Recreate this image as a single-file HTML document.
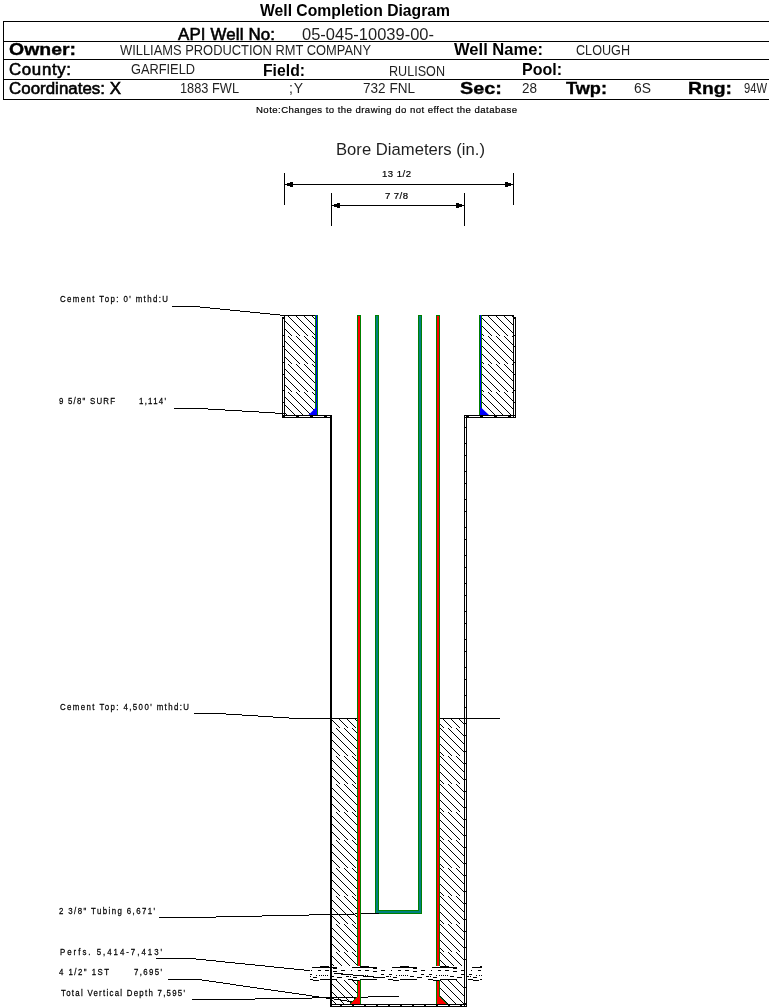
<!DOCTYPE html>
<html><head><meta charset="utf-8"><style>
html,body{margin:0;padding:0;background:#fff;}
svg{display:block;font-family:"Liberation Sans",sans-serif;will-change:transform;}
</style></head><body>
<svg width="769" height="1007" viewBox="0 0 769 1007">
<defs><pattern id="h" patternUnits="userSpaceOnUse" x="0" y="28" width="8" height="56"><g stroke="#000" stroke-width="1.1" shape-rendering="crispEdges" transform="translate(0.5,0.5)"><line x1="-40" y1="0" x2="-12.399999999999999" y2="27.6"/><line x1="-40" y1="28" x2="-12.399999999999999" y2="55.6"/><line x1="-32" y1="0" x2="-4.399999999999999" y2="27.6"/><line x1="-32" y1="28" x2="-4.399999999999999" y2="55.6"/><line x1="-24" y1="0" x2="3.6000000000000014" y2="27.6"/><line x1="-24" y1="28" x2="3.6000000000000014" y2="55.6"/><line x1="-16" y1="0" x2="11.600000000000001" y2="27.6"/><line x1="-16" y1="28" x2="11.600000000000001" y2="55.6"/><line x1="-8" y1="0" x2="19.6" y2="27.6"/><line x1="-8" y1="28" x2="19.6" y2="55.6"/><line x1="0" y1="0" x2="27.6" y2="27.6"/><line x1="0" y1="28" x2="27.6" y2="55.6"/><line x1="8" y1="0" x2="35.6" y2="27.6"/><line x1="8" y1="28" x2="35.6" y2="55.6"/><line x1="16" y1="0" x2="43.6" y2="27.6"/><line x1="16" y1="28" x2="43.6" y2="55.6"/></g></pattern><pattern id="pf" patternUnits="userSpaceOnUse" x="28" y="966" width="40" height="15"><rect x="12" y="0" width="9" height="1"/><rect x="4" y="1" width="25" height="1"/><rect x="25" y="2" width="4" height="1"/><rect x="3" y="4" width="1" height="1"/><rect x="10" y="4" width="3" height="1"/><rect x="17" y="4" width="4" height="1"/><rect x="33" y="4" width="4" height="1"/><rect x="25" y="5" width="4" height="1"/><rect x="1" y="8" width="3" height="1"/><rect x="33" y="8" width="3" height="1"/><rect x="8" y="9" width="1" height="1"/><rect x="11" y="9" width="1" height="1"/><rect x="13" y="9" width="1" height="1"/><rect x="15" y="9" width="1" height="1"/><rect x="17" y="9" width="1" height="1"/><rect x="19" y="9" width="1" height="1"/><rect x="0" y="10" width="1" height="1"/><rect x="2" y="10" width="1" height="1"/><rect x="22" y="10" width="4" height="1"/><rect x="38" y="10" width="2" height="1"/><rect x="5" y="11" width="4" height="1"/><rect x="29" y="11" width="5" height="1"/><rect x="0" y="13" width="5" height="1"/><rect x="12" y="13" width="17" height="1"/><rect x="5" y="14" width="6" height="1"/></pattern></defs>
<rect x="3" y="21" width="766" height="1" fill="#000"/>
<rect x="3" y="41" width="766" height="1" fill="#000"/>
<rect x="3" y="59" width="766" height="1" fill="#000"/>
<rect x="3" y="79" width="766" height="1" fill="#000"/>
<rect x="3" y="99" width="766" height="1" fill="#000"/>
<rect x="3" y="21" width="1" height="79" fill="#000"/>
<rect x="284" y="173" width="1" height="32" fill="#000"/>
<rect x="513" y="173" width="1" height="32" fill="#000"/>
<rect x="284" y="184" width="230" height="1" fill="#000"/>
<rect x="331" y="193" width="1" height="33" fill="#000"/>
<rect x="464" y="193" width="1" height="33" fill="#000"/>
<rect x="331" y="205" width="134" height="1" fill="#000"/>
<rect x="287" y="183" width="3" height="3" fill="#000"/><rect x="290" y="182" width="3" height="5" fill="#000"/>
<rect x="508" y="183" width="3" height="3" fill="#000"/><rect x="505" y="182" width="3" height="5" fill="#000"/>
<rect x="334" y="204" width="3" height="3" fill="#000"/><rect x="337" y="203" width="3" height="5" fill="#000"/>
<rect x="459" y="204" width="3" height="3" fill="#000"/><rect x="456" y="203" width="3" height="5" fill="#000"/>
<rect x="285" y="316" width="30" height="99" fill="url(#h)"/>
<rect x="482" y="316" width="31" height="99" fill="url(#h)"/>
<rect x="332" y="719" width="25" height="285" fill="url(#h)"/>
<rect x="440" y="719" width="24" height="285" fill="url(#h)"/>
<rect x="280" y="315" width="38" height="1" fill="#000"/>
<rect x="479" y="315" width="35" height="1" fill="#000"/>
<rect x="282" y="317" width="1" height="101" fill="#000"/>
<rect x="284" y="315" width="1" height="103" fill="#000"/>
<rect x="282" y="317" width="3" height="2" fill="#000"/>
<rect x="282" y="415" width="50" height="1" fill="#000"/>
<rect x="282" y="417" width="50" height="1" fill="#000"/>
<rect x="513" y="315" width="1" height="103" fill="#000"/>
<rect x="515" y="317" width="1" height="101" fill="#000"/>
<rect x="513" y="317" width="3" height="2" fill="#000"/>
<rect x="464" y="415" width="52" height="1" fill="#000"/>
<rect x="464" y="417" width="52" height="1" fill="#000"/>
<rect x="282" y="335" width="3" height="1" fill="#000"/>
<rect x="513" y="335" width="3" height="1" fill="#000"/>
<rect x="282" y="346" width="3" height="1" fill="#000"/>
<rect x="513" y="346" width="3" height="1" fill="#000"/>
<rect x="282" y="362" width="3" height="1" fill="#000"/>
<rect x="513" y="362" width="3" height="1" fill="#000"/>
<rect x="282" y="374" width="3" height="1" fill="#000"/>
<rect x="513" y="374" width="3" height="1" fill="#000"/>
<rect x="282" y="390" width="3" height="1" fill="#000"/>
<rect x="513" y="390" width="3" height="1" fill="#000"/>
<rect x="282" y="402" width="3" height="1" fill="#000"/>
<rect x="513" y="402" width="3" height="1" fill="#000"/>
<rect x="282" y="416" width="3" height="1" fill="#000"/>
<rect x="296" y="416" width="3" height="1" fill="#000"/>
<rect x="310" y="416" width="3" height="1" fill="#000"/>
<rect x="324" y="416" width="3" height="1" fill="#000"/>
<rect x="466" y="416" width="3" height="1" fill="#000"/>
<rect x="480" y="416" width="3" height="1" fill="#000"/>
<rect x="494" y="416" width="3" height="1" fill="#000"/>
<rect x="508" y="416" width="3" height="1" fill="#000"/>
<rect x="330" y="415" width="2" height="592" fill="#000"/>
<rect x="464" y="415" width="1" height="592" fill="#000"/>
<rect x="466" y="415" width="1" height="592" fill="#000"/>
<rect x="464" y="427" width="3" height="1" fill="#000"/>
<rect x="464" y="443" width="3" height="1" fill="#000"/>
<rect x="464" y="455" width="3" height="1" fill="#000"/>
<rect x="464" y="471" width="3" height="1" fill="#000"/>
<rect x="464" y="483" width="3" height="1" fill="#000"/>
<rect x="464" y="499" width="3" height="1" fill="#000"/>
<rect x="464" y="511" width="3" height="1" fill="#000"/>
<rect x="464" y="527" width="3" height="1" fill="#000"/>
<rect x="464" y="539" width="3" height="1" fill="#000"/>
<rect x="464" y="555" width="3" height="1" fill="#000"/>
<rect x="464" y="567" width="3" height="1" fill="#000"/>
<rect x="464" y="583" width="3" height="1" fill="#000"/>
<rect x="464" y="595" width="3" height="1" fill="#000"/>
<rect x="464" y="611" width="3" height="1" fill="#000"/>
<rect x="464" y="623" width="3" height="1" fill="#000"/>
<rect x="464" y="639" width="3" height="1" fill="#000"/>
<rect x="464" y="651" width="3" height="1" fill="#000"/>
<rect x="464" y="667" width="3" height="1" fill="#000"/>
<rect x="464" y="679" width="3" height="1" fill="#000"/>
<rect x="464" y="695" width="3" height="1" fill="#000"/>
<rect x="464" y="707" width="3" height="1" fill="#000"/>
<rect x="464" y="723" width="3" height="1" fill="#000"/>
<rect x="464" y="735" width="3" height="1" fill="#000"/>
<rect x="464" y="751" width="3" height="1" fill="#000"/>
<rect x="464" y="763" width="3" height="1" fill="#000"/>
<rect x="464" y="779" width="3" height="1" fill="#000"/>
<rect x="464" y="791" width="3" height="1" fill="#000"/>
<rect x="464" y="807" width="3" height="1" fill="#000"/>
<rect x="464" y="819" width="3" height="1" fill="#000"/>
<rect x="464" y="835" width="3" height="1" fill="#000"/>
<rect x="464" y="847" width="3" height="1" fill="#000"/>
<rect x="464" y="863" width="3" height="1" fill="#000"/>
<rect x="464" y="875" width="3" height="1" fill="#000"/>
<rect x="464" y="891" width="3" height="1" fill="#000"/>
<rect x="464" y="903" width="3" height="1" fill="#000"/>
<rect x="464" y="919" width="3" height="1" fill="#000"/>
<rect x="464" y="931" width="3" height="1" fill="#000"/>
<rect x="464" y="947" width="3" height="1" fill="#000"/>
<rect x="464" y="959" width="3" height="1" fill="#000"/>
<rect x="464" y="975" width="3" height="1" fill="#000"/>
<rect x="464" y="987" width="3" height="1" fill="#000"/>
<rect x="464" y="1003" width="3" height="1" fill="#000"/>
<rect x="315" y="315" width="1" height="100" fill="#008000"/>
<rect x="316" y="315" width="1" height="100" fill="#0000ff"/>
<rect x="317" y="315" width="1" height="100" fill="#008000"/>
<rect x="479" y="315" width="1" height="100" fill="#008000"/>
<rect x="480" y="315" width="1" height="100" fill="#0000ff"/>
<rect x="481" y="315" width="1" height="100" fill="#008000"/>
<polygon points="308.5,415 316,407.5 317,415" fill="#0000ff"/>
<polygon points="480,415 481,407.5 489,415" fill="#0000ff"/>
<rect x="331" y="718" width="26" height="1" fill="#000"/>
<rect x="440" y="718" width="60" height="1" fill="#000"/>
<rect x="172" y="306" width="28" height="1" fill="#000"/>
<rect x="200" y="307" width="10" height="1" fill="#000"/>
<rect x="210" y="308" width="10" height="1" fill="#000"/>
<rect x="220" y="309" width="10" height="1" fill="#000"/>
<rect x="230" y="310" width="10" height="1" fill="#000"/>
<rect x="240" y="311" width="10" height="1" fill="#000"/>
<rect x="250" y="312" width="10" height="1" fill="#000"/>
<rect x="260" y="313" width="10" height="1" fill="#000"/>
<rect x="270" y="314" width="10" height="1" fill="#000"/>
<rect x="280" y="315" width="5" height="1" fill="#000"/>
<rect x="174" y="408" width="34" height="1" fill="#000"/>
<rect x="208" y="409" width="17" height="1" fill="#000"/>
<rect x="225" y="410" width="17" height="1" fill="#000"/>
<rect x="242" y="411" width="17" height="1" fill="#000"/>
<rect x="259" y="412" width="16" height="1" fill="#000"/>
<rect x="275" y="413" width="9" height="1" fill="#000"/>
<rect x="194" y="713" width="32" height="1" fill="#000"/>
<rect x="226" y="714" width="16" height="1" fill="#000"/>
<rect x="242" y="715" width="16" height="1" fill="#000"/>
<rect x="258" y="716" width="15" height="1" fill="#000"/>
<rect x="273" y="717" width="16" height="1" fill="#000"/>
<rect x="289" y="718" width="69" height="1" fill="#000"/>
<rect x="159" y="917" width="57" height="1" fill="#000"/>
<rect x="216" y="916" width="46" height="1" fill="#000"/>
<rect x="262" y="915" width="47" height="1" fill="#000"/>
<rect x="309" y="914" width="46" height="1" fill="#000"/>
<rect x="355" y="913" width="24" height="1" fill="#000"/>
<rect x="156" y="958" width="40" height="1" fill="#000"/>
<rect x="196" y="959" width="10" height="1" fill="#000"/>
<rect x="206" y="960" width="10" height="1" fill="#000"/>
<rect x="216" y="961" width="9" height="1" fill="#000"/>
<rect x="225" y="962" width="10" height="1" fill="#000"/>
<rect x="235" y="963" width="10" height="1" fill="#000"/>
<rect x="245" y="964" width="10" height="1" fill="#000"/>
<rect x="255" y="965" width="10" height="1" fill="#000"/>
<rect x="265" y="966" width="9" height="1" fill="#000"/>
<rect x="274" y="967" width="10" height="1" fill="#000"/>
<rect x="284" y="968" width="10" height="1" fill="#000"/>
<rect x="294" y="969" width="10" height="1" fill="#000"/>
<rect x="304" y="970" width="10" height="1" fill="#000"/>
<rect x="314" y="971" width="9" height="1" fill="#000"/>
<rect x="323" y="972" width="11" height="1" fill="#000"/>
<rect x="168" y="979" width="34" height="1" fill="#000"/>
<rect x="202" y="980" width="7" height="1" fill="#000"/>
<rect x="209" y="981" width="7" height="1" fill="#000"/>
<rect x="216" y="982" width="7" height="1" fill="#000"/>
<rect x="223" y="983" width="7" height="1" fill="#000"/>
<rect x="230" y="984" width="6" height="1" fill="#000"/>
<rect x="236" y="985" width="7" height="1" fill="#000"/>
<rect x="243" y="986" width="7" height="1" fill="#000"/>
<rect x="250" y="987" width="7" height="1" fill="#000"/>
<rect x="257" y="988" width="7" height="1" fill="#000"/>
<rect x="264" y="989" width="7" height="1" fill="#000"/>
<rect x="271" y="990" width="7" height="1" fill="#000"/>
<rect x="278" y="991" width="7" height="1" fill="#000"/>
<rect x="285" y="992" width="7" height="1" fill="#000"/>
<rect x="292" y="993" width="7" height="1" fill="#000"/>
<rect x="299" y="994" width="7" height="1" fill="#000"/>
<rect x="306" y="995" width="6" height="1" fill="#000"/>
<rect x="312" y="996" width="7" height="1" fill="#000"/>
<rect x="319" y="997" width="7" height="1" fill="#000"/>
<rect x="326" y="998" width="8" height="1" fill="#000"/>
<rect x="334" y="999" width="7" height="1" fill="#000"/>
<rect x="341" y="1000" width="6" height="1" fill="#000"/>
<rect x="347" y="1001" width="6" height="1" fill="#000"/>
<rect x="192" y="999" width="63" height="1" fill="#000"/>
<rect x="255" y="998" width="57" height="1" fill="#000"/>
<rect x="312" y="997" width="56" height="1" fill="#000"/>
<rect x="368" y="996" width="31" height="1" fill="#000"/>
<rect x="357" y="315" width="1" height="651" fill="#008000"/>
<rect x="358" y="315" width="2" height="651" fill="#ff0000"/>
<rect x="360" y="315" width="1" height="651" fill="#008000"/>
<rect x="357" y="315" width="4" height="1" fill="#008000"/>
<rect x="436" y="315" width="1" height="651" fill="#008000"/>
<rect x="437" y="315" width="2" height="651" fill="#ff0000"/>
<rect x="439" y="315" width="1" height="651" fill="#008000"/>
<rect x="436" y="315" width="4" height="1" fill="#008000"/>
<rect x="357" y="980" width="1" height="24" fill="#008000"/>
<rect x="358" y="980" width="2" height="24" fill="#ff0000"/>
<rect x="360" y="980" width="1" height="24" fill="#008000"/>
<rect x="357" y="980" width="4" height="1" fill="#008000"/>
<rect x="436" y="980" width="1" height="24" fill="#008000"/>
<rect x="437" y="980" width="2" height="24" fill="#ff0000"/>
<rect x="439" y="980" width="1" height="24" fill="#008000"/>
<rect x="436" y="980" width="4" height="1" fill="#008000"/>
<polygon points="350,1004 357,997 360,997 360,1004" fill="#ff0000"/>
<rect x="356" y="997" width="1" height="1" fill="#008000"/>
<rect x="355" y="998" width="1" height="1" fill="#008000"/>
<rect x="354" y="999" width="1" height="1" fill="#008000"/>
<rect x="353" y="1000" width="1" height="1" fill="#008000"/>
<rect x="352" y="1001" width="1" height="1" fill="#008000"/>
<rect x="351" y="1002" width="1" height="1" fill="#008000"/>
<rect x="350" y="1003" width="1" height="1" fill="#008000"/>
<polygon points="437,997 440,997 447,1004 437,1004" fill="#ff0000"/>
<rect x="439" y="996" width="1" height="1" fill="#008000"/>
<rect x="440" y="997" width="1" height="1" fill="#008000"/>
<rect x="441" y="998" width="1" height="1" fill="#008000"/>
<rect x="442" y="999" width="1" height="1" fill="#008000"/>
<rect x="443" y="1000" width="1" height="1" fill="#008000"/>
<rect x="444" y="1001" width="1" height="1" fill="#008000"/>
<rect x="445" y="1002" width="1" height="1" fill="#008000"/>
<rect x="446" y="1003" width="1" height="1" fill="#008000"/>
<path d="M375.5,315.5 H378.5 V910.5 H418.5 V315.5 H421.5 V913.5 H375.5 Z" fill="#008080" stroke="#008000" stroke-width="1" shape-rendering="crispEdges"/>
<rect x="375" y="913" width="4" height="1" fill="#000"/>
<rect x="310" y="966" width="172" height="14" fill="#fff"/>
<rect x="310" y="966" width="172" height="15" fill="url(#pf)"/>
<rect x="334" y="973" width="9" height="1" fill="#000"/>
<rect x="343" y="974" width="10" height="1" fill="#000"/>
<rect x="353" y="975" width="10" height="1" fill="#000"/>
<rect x="363" y="976" width="10" height="1" fill="#000"/>
<rect x="373" y="977" width="12" height="1" fill="#000"/>
<rect x="330" y="960" width="2" height="25" fill="#000"/>
<rect x="464" y="960" width="1" height="25" fill="#000"/>
<rect x="466" y="960" width="1" height="25" fill="#000"/>
<rect x="330" y="1004" width="137" height="1" fill="#000"/>
<rect x="330" y="1006" width="137" height="1" fill="#000"/>
<rect x="340" y="1005" width="2" height="1" fill="#000"/>
<rect x="352" y="1005" width="2" height="1" fill="#000"/>
<rect x="364" y="1005" width="2" height="1" fill="#000"/>
<rect x="376" y="1005" width="2" height="1" fill="#000"/>
<rect x="388" y="1005" width="2" height="1" fill="#000"/>
<rect x="400" y="1005" width="2" height="1" fill="#000"/>
<rect x="412" y="1005" width="2" height="1" fill="#000"/>
<rect x="424" y="1005" width="2" height="1" fill="#000"/>
<rect x="436" y="1005" width="2" height="1" fill="#000"/>
<rect x="448" y="1005" width="2" height="1" fill="#000"/>
<rect x="460" y="1005" width="2" height="1" fill="#000"/>
<text x="260.00" y="16" font-size="16.86" font-weight="bold" textLength="190.00" lengthAdjust="spacingAndGlyphs">Well Completion Diagram</text>
<text x="178.00" y="40" font-size="16.86" font-weight="normal" textLength="97.00" lengthAdjust="spacing" stroke="#000" stroke-width="0.6">API Well No:</text>
<text x="302.00" y="40" font-size="16.86" font-weight="normal" textLength="132.00" lengthAdjust="spacingAndGlyphs" fill-opacity="0.88">05-045-10039-00-</text>
<text x="9.00" y="55" font-size="16.86" font-weight="bold" textLength="67.00" lengthAdjust="spacingAndGlyphs" stroke="#000" stroke-width="0.35">Owner:</text>
<text x="120.00" y="55" font-size="13.95" font-weight="normal" textLength="251.00" lengthAdjust="spacingAndGlyphs" fill-opacity="0.88">WILLIAMS PRODUCTION RMT COMPANY</text>
<text x="454.00" y="55" font-size="16.86" font-weight="bold" textLength="89.00" lengthAdjust="spacingAndGlyphs">Well Name:</text>
<text x="576.00" y="55" font-size="13.95" font-weight="normal" textLength="54.00" lengthAdjust="spacingAndGlyphs" fill-opacity="0.88">CLOUGH</text>
<text x="9.00" y="75" font-size="16.86" font-weight="normal" textLength="62.00" lengthAdjust="spacing" stroke="#000" stroke-width="0.6">County:</text>
<text x="131.00" y="74" font-size="13.95" font-weight="normal" textLength="64.00" lengthAdjust="spacingAndGlyphs" fill-opacity="0.88">GARFIELD</text>
<text x="263.00" y="76" font-size="16.86" font-weight="bold" textLength="42.00" lengthAdjust="spacingAndGlyphs">Field:</text>
<text x="389.00" y="76" font-size="13.95" font-weight="normal" textLength="56.00" lengthAdjust="spacingAndGlyphs" fill-opacity="0.88">RULISON</text>
<text x="522.00" y="75" font-size="16.86" font-weight="bold" textLength="40.00" lengthAdjust="spacingAndGlyphs">Pool:</text>
<text x="9.00" y="94" font-size="16.86" font-weight="normal" textLength="112.00" lengthAdjust="spacing" stroke="#000" stroke-width="0.6">Coordinates: X</text>
<text x="180.00" y="93" font-size="13.95" font-weight="normal" textLength="59.00" lengthAdjust="spacingAndGlyphs" fill-opacity="0.88">1883 FWL</text>
<text x="289.00" y="93" font-size="13.95" font-weight="normal" textLength="14.00" lengthAdjust="spacing" fill-opacity="0.88">;Y</text>
<text x="363.00" y="93" font-size="13.95" font-weight="normal" textLength="52.00" lengthAdjust="spacingAndGlyphs" fill-opacity="0.88">732 FNL</text>
<text x="460.00" y="94" font-size="16.86" font-weight="bold" textLength="42.00" lengthAdjust="spacingAndGlyphs" stroke="#000" stroke-width="0.35">Sec:</text>
<text x="522.00" y="93" font-size="13.95" font-weight="normal" textLength="15.00" lengthAdjust="spacingAndGlyphs" fill-opacity="0.88">28</text>
<text x="566.00" y="94" font-size="16.86" font-weight="bold" textLength="41.00" lengthAdjust="spacingAndGlyphs" stroke="#000" stroke-width="0.35">Twp:</text>
<text x="634.00" y="93" font-size="13.95" font-weight="normal" textLength="17.00" lengthAdjust="spacingAndGlyphs" fill-opacity="0.88">6S</text>
<text x="688.00" y="94" font-size="16.86" font-weight="bold" textLength="44.00" lengthAdjust="spacingAndGlyphs" stroke="#000" stroke-width="0.35">Rng:</text>
<text x="744.00" y="93" font-size="13.95" font-weight="normal" textLength="23.00" lengthAdjust="spacingAndGlyphs" fill-opacity="0.88">94W</text>
<text x="256.00" y="113" font-size="9.59" font-weight="normal" textLength="261.00" lengthAdjust="spacing" stroke="#000" stroke-width="0.2">Note:Changes to the drawing do not effect the database</text>
<text x="336.00" y="155" font-size="16.86" font-weight="normal" textLength="149.00" lengthAdjust="spacingAndGlyphs" fill-opacity="0.88">Bore Diameters (in.)</text>
<text x="382.00" y="177" font-size="9.59" font-weight="normal" textLength="29.00" lengthAdjust="spacing" stroke="#000" stroke-width="0.2">13 1/2</text>
<text x="385.00" y="199" font-size="9.59" font-weight="normal" textLength="23.00" lengthAdjust="spacing" stroke="#000" stroke-width="0.2">7 7/8</text>
<text transform="translate(60.00,302) scale(0.82,1)" x="0" y="0" font-size="9.59" font-weight="normal" textLength="131.71" lengthAdjust="spacing" stroke="#000" stroke-width="0.25">Cement Top: 0' mthd:U</text>
<text transform="translate(59.00,404) scale(0.82,1)" x="0" y="0" font-size="9.59" font-weight="normal" textLength="68.29" lengthAdjust="spacing" stroke="#000" stroke-width="0.25">9 5/8&quot; SURF</text>
<text transform="translate(139.00,404) scale(0.82,1)" x="0" y="0" font-size="9.59" font-weight="normal" textLength="32.93" lengthAdjust="spacing" stroke="#000" stroke-width="0.25">1,114'</text>
<text transform="translate(60.00,710) scale(0.82,1)" x="0" y="0" font-size="9.59" font-weight="normal" textLength="157.32" lengthAdjust="spacing" stroke="#000" stroke-width="0.25">Cement Top: 4,500' mthd:U</text>
<text transform="translate(59.00,914) scale(0.82,1)" x="0" y="0" font-size="9.59" font-weight="normal" textLength="117.07" lengthAdjust="spacing" stroke="#000" stroke-width="0.25">2 3/8&quot; Tubing 6,671'</text>
<text transform="translate(60.00,955) scale(0.82,1)" x="0" y="0" font-size="9.59" font-weight="normal" textLength="124.39" lengthAdjust="spacing" stroke="#000" stroke-width="0.25">Perfs. 5,414-7,413'</text>
<text transform="translate(59.00,975) scale(0.82,1)" x="0" y="0" font-size="9.59" font-weight="normal" textLength="60.98" lengthAdjust="spacing" stroke="#000" stroke-width="0.25">4 1/2&quot; 1ST</text>
<text transform="translate(134.00,975) scale(0.82,1)" x="0" y="0" font-size="9.59" font-weight="normal" textLength="34.15" lengthAdjust="spacing" stroke="#000" stroke-width="0.25">7,695'</text>
<text transform="translate(61.00,996) scale(0.82,1)" x="0" y="0" font-size="9.59" font-weight="normal" textLength="151.22" lengthAdjust="spacing" stroke="#000" stroke-width="0.25">Total Vertical Depth 7,595'</text>
</svg></body></html>
